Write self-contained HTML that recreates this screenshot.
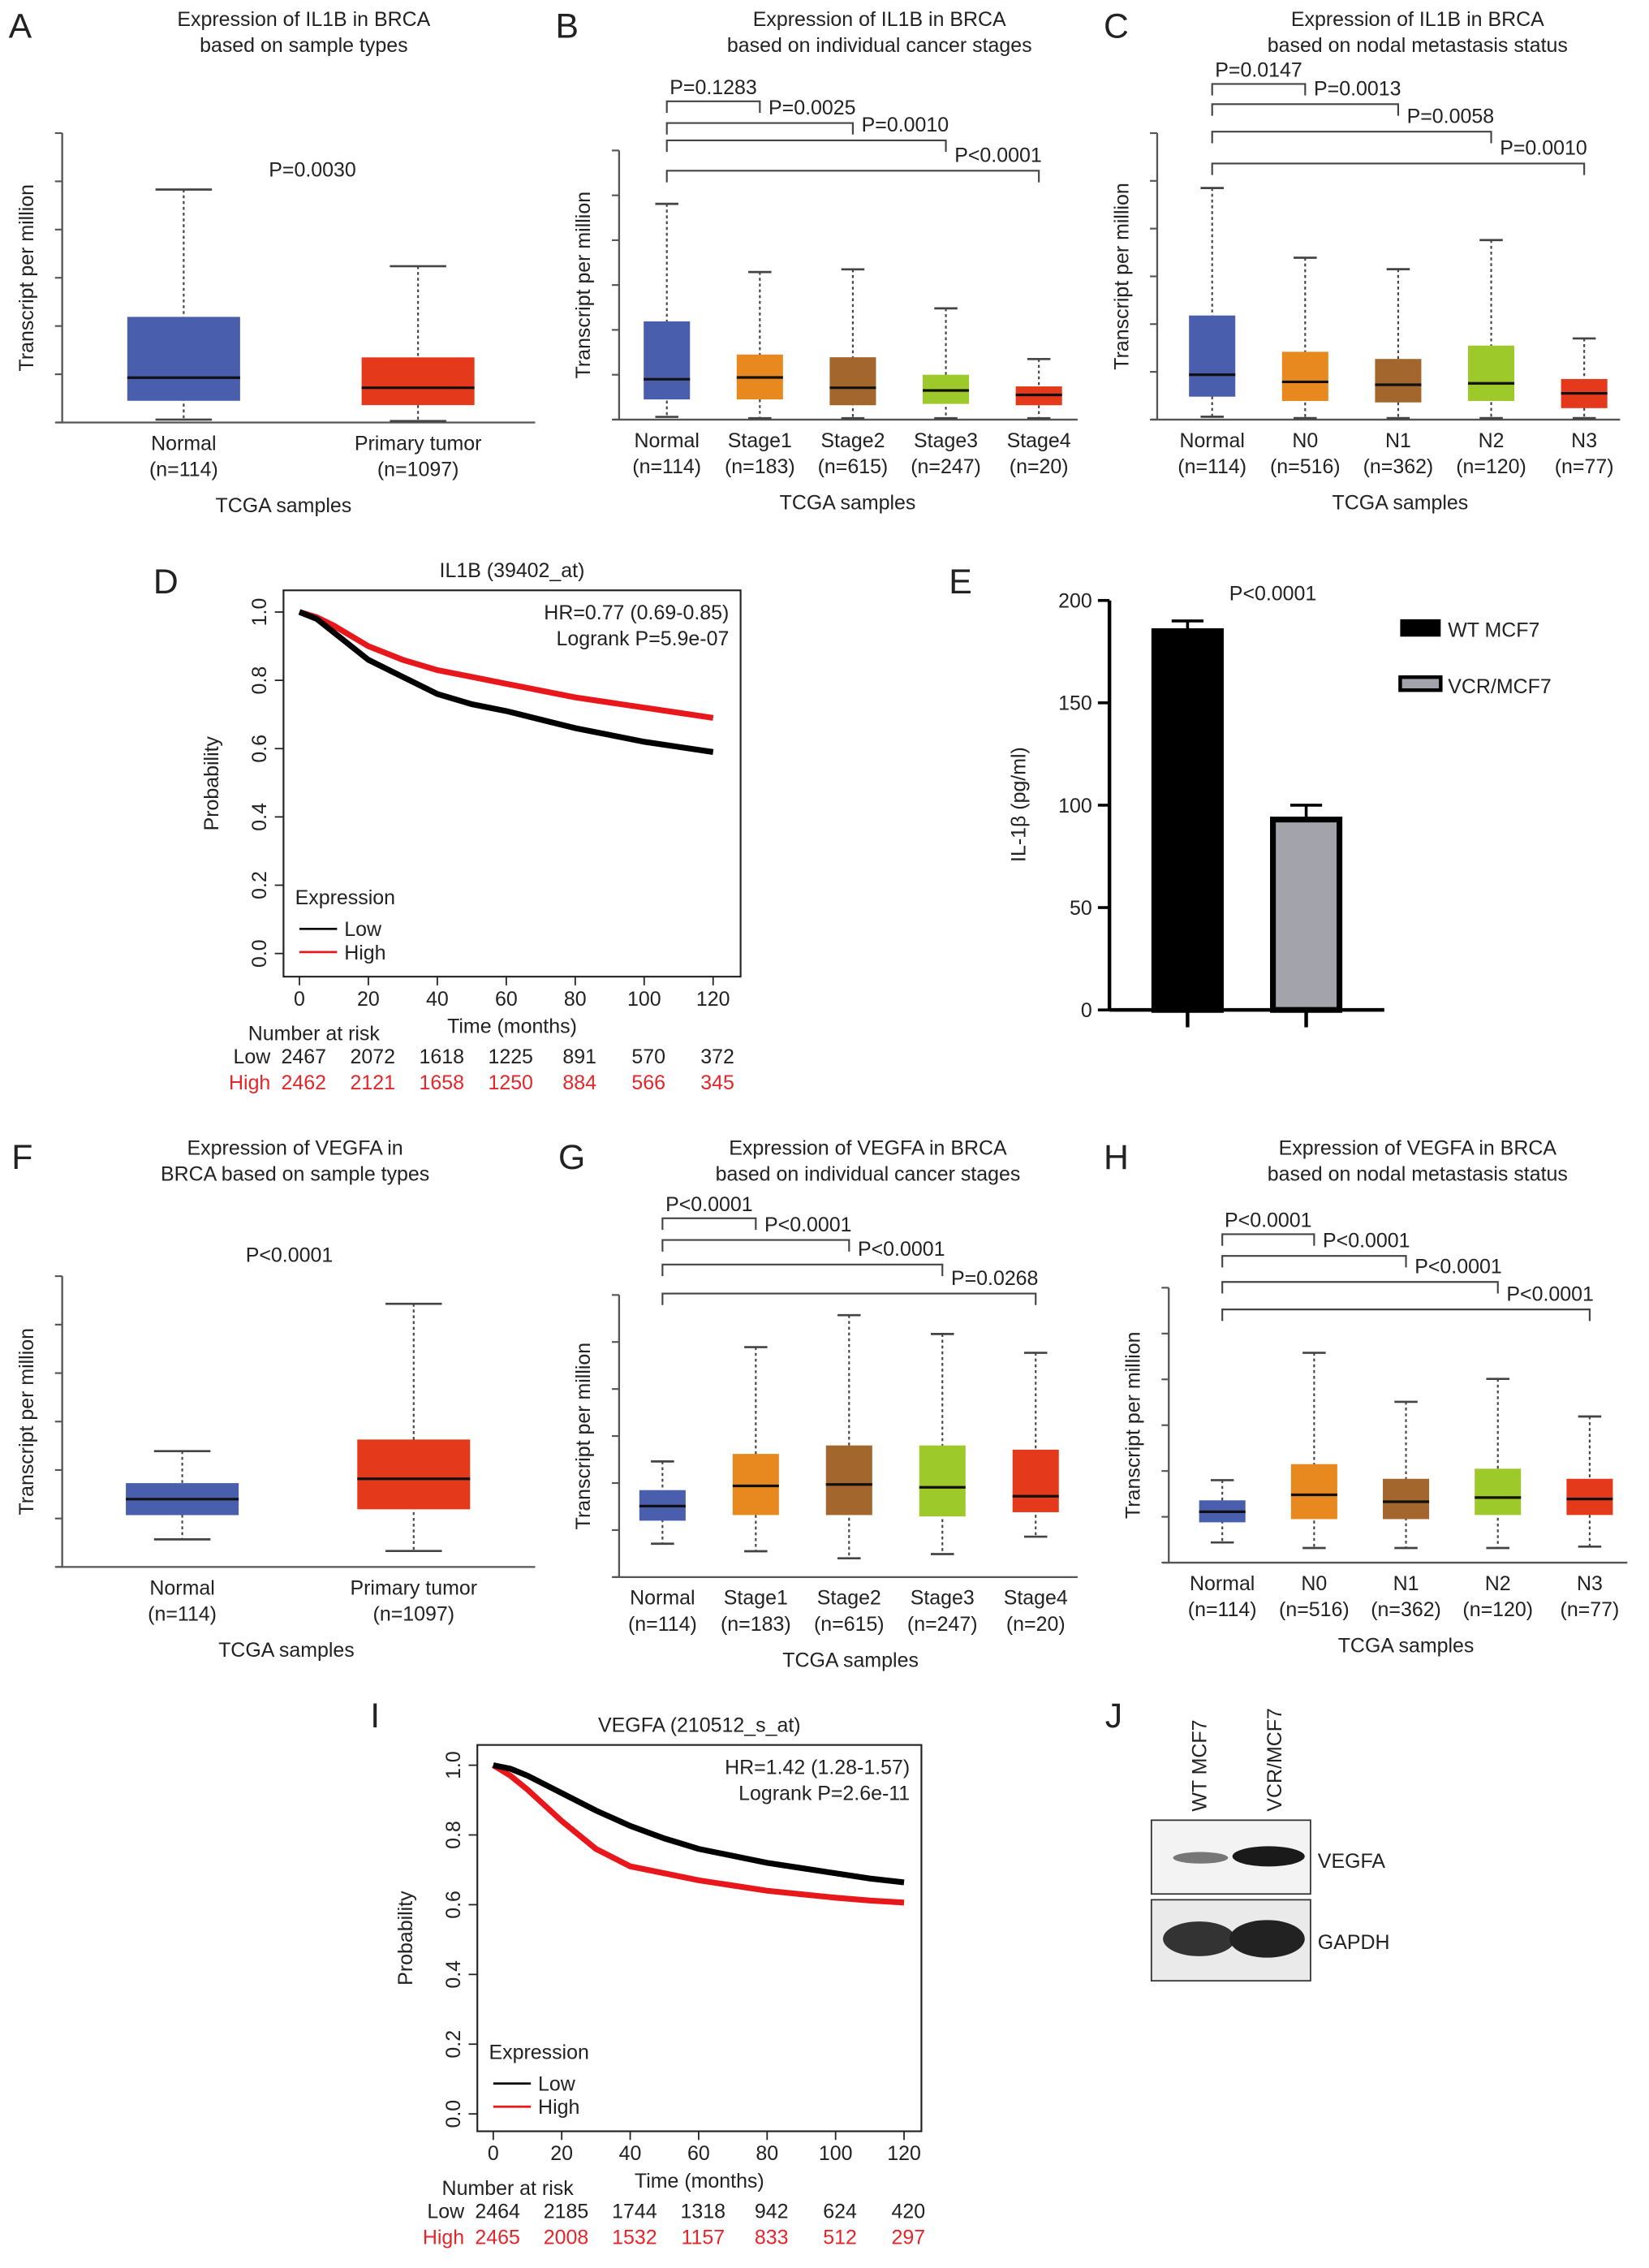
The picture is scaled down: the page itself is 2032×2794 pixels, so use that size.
<!DOCTYPE html>
<html><head><meta charset="utf-8"><style>
html,body{margin:0;padding:0;background:#fff}
svg{display:block;font-family:"Liberation Sans",sans-serif}
</style></head><body>
<svg id="fig" xmlns="http://www.w3.org/2000/svg" width="2032" height="2794" viewBox="0 0 1140 1567.5">
<rect width="1140" height="1567.5" fill="#fff"/>
<g id="root"></g>
</svg>
<script>
// ---- Panel A data ----
const aCats=['Normal','Primary tumor'];
const aNs=['(n=114)','(n=1097)'];
const aMax=[48.3,32.4],aQ3=[21.9,13.5],aMed=[9.3,7.2],aQ1=[4.5,3.6],aMin=[0.6,0.3];
// ---- Panel B ----
const bCats=['Normal','Stage1','Stage2','Stage3','Stage4'];
const bNs=['(n=114)','(n=183)','(n=615)','(n=247)','(n=20)'];
const bMax=[48.1,32.9,33.5,24.8,13.5],bQ3=[21.9,14.5,13.9,10.0,7.4],bMed=[9.0,9.4,7.1,6.5,5.5],bQ1=[4.5,4.5,3.2,3.5,3.2],bMin=[0.6,0.3,0.3,0.3,0.3];
const bP=['P=0.1283','P=0.0025','P=0.0010','P<0.0001'];
// ---- Panel C ----
const cCats=['Normal','N0','N1','N2','N3'];
const cNs=['(n=114)','(n=516)','(n=362)','(n=120)','(n=77)'];
const cMax=[48.5,33.9,31.5,37.6,17.0],cQ3=[21.8,14.2,12.7,15.5,8.5],cMed=[9.4,7.9,7.3,7.6,5.5],cQ1=[4.8,3.9,3.6,3.9,2.4],cMin=[0.6,0.3,0.3,0.3,0.3];
const cP=['P=0.0147','P=0.0013','P=0.0058','P=0.0010'];
// ---- Panel F ----
const fCats=['Normal','Primary tumor'];
const fNs=['(n=114)','(n=1097)'];
const fMax=[23.9,54.3],fQ3=[17.3,26.3],fMed=[14.0,18.2],fQ1=[10.7,11.9],fMin=[5.7,3.3];
// ---- Panel G ----
const gCats=['Normal','Stage1','Stage2','Stage3','Stage4'];
const gNs=['(n=114)','(n=183)','(n=615)','(n=247)','(n=20)'];
const gMax=[24.6,48.9,55.7,51.7,47.7],gQ3=[18.5,26.2,28.0,28.0,27.1],gMed=[15.1,19.4,19.7,19.1,17.2],gQ1=[12.0,13.2,13.2,12.9,13.8],gMin=[7.1,5.5,4.0,4.9,8.6];
const gP=['P<0.0001','P<0.0001','P<0.0001','P=0.0268'];
// ---- Panel H ----
const hCats=['Normal','N0','N1','N2','N3'];
const hNs=['(n=114)','(n=516)','(n=362)','(n=120)','(n=77)'];
const hMax=[18.0,45.8,35.1,40.1,31.9],hQ3=[13.6,21.5,18.3,20.5,18.3],hMed=[11.1,14.8,13.3,14.2,13.9],hQ1=[8.8,9.5,9.5,10.4,10.4],hMin=[4.4,3.2,3.2,3.2,3.5];
const hP=['P<0.0001','P<0.0001','P<0.0001','P<0.0001'];
// ---- Panel D KM ----
const kmTicks=[0,20,40,60,80,100,120];
const kmYTicks=[0,0.2,0.4,0.6,0.8,1.0];
const dTime=[0,5,10,20,30,40,50,60,70,80,90,100,110,120];
const dLow=[1,0.98,0.94,0.86,0.81,0.76,0.73,0.71,0.685,0.66,0.64,0.62,0.605,0.59];
const dHigh=[1,0.985,0.96,0.9,0.86,0.83,0.81,0.79,0.77,0.75,0.735,0.72,0.705,0.69];
const dRiskLow=['2467','2072','1618','1225','891','570','372'];
const dRiskHigh=['2462','2121','1658','1250','884','566','345'];
// ---- Panel I KM ----
const iTime=[0,5,10,20,30,40,50,60,70,80,90,100,110,120];
const iLow=[1,0.99,0.97,0.92,0.87,0.826,0.79,0.76,0.74,0.72,0.705,0.69,0.675,0.664];
const iHigh=[1,0.97,0.93,0.84,0.76,0.71,0.69,0.67,0.655,0.64,0.63,0.62,0.612,0.606];
const iRiskLow=['2464','2185','1744','1318','942','624','420'];
const iRiskHigh=['2465','2008','1532','1157','833','512','297'];
// ---- Panel E bars ----
const eCats=['WT MCF7','VCR/MCF7'];
const eVals=[185,93];
const eErr=[5,7];
const eTicks=[0,50,100,150,200];

const NS='http://www.w3.org/2000/svg';
const root=document.getElementById('root');
function el(tag,attrs,parent,text){const e=document.createElementNS(NS,tag);for(const k in attrs)e.setAttribute(k,attrs[k]);if(text!==undefined)e.textContent=text;(parent||root).appendChild(e);return e;}
function txt(x,y,s,opt,parent){opt=opt||{};const t=el('text',{x:x,y:y,'font-size':opt.size||14,fill:opt.fill||'#222','text-anchor':opt.anchor||'middle'},parent,s);if(opt.rot)t.setAttribute('transform','rotate(-90 '+x+' '+y+')');


return t;}

function boxPanel(c){
  const g=el('g',{});
  
  
  const y=v=>c.yBot-(v/60)*(c.yBot-c.yTop);
  el('line',{x1:c.x0,y1:c.yTop,x2:c.x0,y2:c.yBot,stroke:'#555','stroke-width':1.3},g);
  el('line',{x1:c.x0-4,y1:c.yBot,x2:c.xEnd,y2:c.yBot,stroke:'#555','stroke-width':1.3},g);
  for(let v=0;v<=60;v+=10){el('line',{x1:c.x0-5,y1:y(v),x2:c.x0,y2:y(v),stroke:'#555','stroke-width':1.2},g);}
  c.cats.forEach((cat,i)=>{
    const cx=c.first+i*c.step,w=c.w;
    const b=el('g',{},g);
    
    
    el('line',{x1:cx,y1:y(c.max[i]),x2:cx,y2:y(c.min[i]),stroke:'#444','stroke-width':1.2,'stroke-dasharray':'2,2'},b);
    el('line',{x1:cx-w/4,y1:y(c.max[i]),x2:cx+w/4,y2:y(c.max[i]),stroke:'#444','stroke-width':1.5},b);
    el('line',{x1:cx-w/4,y1:y(c.min[i]),x2:cx+w/4,y2:y(c.min[i]),stroke:'#444','stroke-width':1.5},b);
    el('rect',{x:cx-w/2,y:y(c.q3[i]),width:w,height:y(c.q1[i])-y(c.q3[i]),fill:c.colors[i]},b);
    el('line',{x1:cx-w/2,y1:y(c.med[i]),x2:cx+w/2,y2:y(c.med[i]),stroke:'#111','stroke-width':1.8},b);
    txt(cx,c.yBot+19,cat,{name:'x-tick-label'},g);
    txt(cx,c.yBot+37,c.ns[i],{name:'x-tick-count'},g);
  });
  txt(c.titleX,c.titleY,c.t1,{name:'panel-title'},g);
  txt(c.titleX,c.titleY+18,c.t2,{name:'panel-subtitle'},g);
  txt(c.x0-20,(c.yTop+c.yBot)/2,'Transcript per million',{rot:1,name:'y-axis-title'},g);
  txt(c.xlabX,c.yBot+62,'TCGA samples',{name:'x-axis-title'},g);
  txt(c.letterX,c.letterY,c.letter,{size:24,anchor:'start',name:'panel-letter'},g);
  if(c.p1) txt(c.p1x,c.p1y,c.p1,{name:'p-value'},g);
  if(c.pv){
    let prevEnd=null;
    c.pv.forEach((p,k)=>{
      const x1=c.first,x2=c.first+(k+1)*c.step,by=c.brY[k];
      const br=el('g',{},g);
      
      
      el('polyline',{points:x1+','+(by+8)+' '+x1+','+by+' '+x2+','+by+' '+x2+','+(by+8),fill:'none',stroke:'#444','stroke-width':1.2},br);
      if(k===0) txt((x1+x2)/2,by-5,p,{name:'p-value'},br);
      else txt(prevEnd+6,by-6,p,{anchor:'start',name:'p-value'},br);
      prevEnd=x2;
    });
  }
}
const C2=['#4a5eae','#e4391b'];
const C5=['#4a5eae','#e8891f','#a3672e','#9ec92a','#e4391b'];
boxPanel({id:'a',cats:aCats,ns:aNs,max:aMax,q3:aQ3,med:aMed,q1:aQ1,min:aMin,colors:C2,x0:43,xEnd:370,yTop:92,yBot:292,first:127,step:162,w:78,titleX:210,titleY:18,t1:'Expression of IL1B in BRCA',t2:'based on sample types',xlabX:196,letter:'A',letterX:6,letterY:26,p1:'P=0.0030',p1x:216,p1y:122});
boxPanel({id:'b',cats:bCats,ns:bNs,max:bMax,q3:bQ3,med:bMed,q1:bQ1,min:bMin,colors:C5,x0:428,xEnd:745,yTop:104,yBot:290,first:461,step:64.3,w:32,titleX:608,titleY:18,t1:'Expression of IL1B in BRCA',t2:'based on individual cancer stages',xlabX:586,letter:'B',letterX:384,letterY:26,pv:bP,brY:[70,85,97,118]});
boxPanel({id:'c',cats:cCats,ns:cNs,max:cMax,q3:cQ3,med:cMed,q1:cQ1,min:cMin,colors:C5,x0:800,xEnd:1120,yTop:92,yBot:290,first:838,step:64.3,w:32,titleX:980,titleY:18,t1:'Expression of IL1B in BRCA',t2:'based on nodal metastasis status',xlabX:968,letter:'C',letterX:763,letterY:26,pv:cP,brY:[58,72,91,113]});
boxPanel({id:'f',cats:fCats,ns:fNs,max:fMax,q3:fQ3,med:fMed,q1:fQ1,min:fMin,colors:C2,x0:43,xEnd:370,yTop:882,yBot:1083,first:126,step:160,w:78,titleX:204,titleY:798,t1:'Expression of VEGFA in',t2:'BRCA based on sample types',xlabX:198,letter:'F',letterX:8,letterY:808,p1:'P<0.0001',p1x:200,p1y:872});
boxPanel({id:'g',cats:gCats,ns:gNs,max:gMax,q3:gQ3,med:gMed,q1:gQ1,min:gMin,colors:C5,x0:428,xEnd:745,yTop:895,yBot:1090,first:458,step:64.5,w:32,titleX:600,titleY:798,t1:'Expression of VEGFA in BRCA',t2:'based on individual cancer stages',xlabX:588,letter:'G',letterX:386,letterY:808,pv:gP,brY:[842,857,874,894]});
boxPanel({id:'h',cats:hCats,ns:hNs,max:hMax,q3:hQ3,med:hMed,q1:hQ1,min:hMin,colors:C5,x0:808,xEnd:1125,yTop:890,yBot:1080,first:845,step:63.5,w:32,titleX:980,titleY:798,t1:'Expression of VEGFA in BRCA',t2:'based on nodal metastasis status',xlabX:972,letter:'H',letterX:763,letterY:808,pv:hP,brY:[853,868,886,905]});

function kmPanel(c){
  const g=el('g',{});
  
  
  const x=t=>c.xa+(t/120)*(c.xb-c.xa);
  const y=p=>c.y0-p*(c.y0-c.y1);
  el('rect',{x:c.fx1,y:c.fy1,width:c.fx2-c.fx1,height:c.fy2-c.fy1,fill:'none',stroke:'#222','stroke-width':1.2},g);
  kmTicks.forEach((t,i)=>{el('line',{x1:x(t),y1:c.fy2,x2:x(t),y2:c.fy2+6,stroke:'#222'},g);txt(x(t),c.fy2+20,String(t),{name:'x-tick-label'},g);
    txt(x(t)+3,c.fy2+60,c.rl[i],{name:'risk-low'},g);txt(x(t)+3,c.fy2+78,c.rh[i],{fill:'#e4262b',name:'risk-high'},g);});
  kmYTicks.forEach(p=>{el('line',{x1:c.fx1-6,y1:y(p),x2:c.fx1,y2:y(p),stroke:'#222'},g);txt(c.fx1-12,y(p),p.toFixed(1),{rot:1,name:'y-tick-label'},g);});
  const pts=arr=>c.time.map((t,i)=>x(t)+','+y(arr[i])).join(' ');
  const lh=el('polyline',{points:pts(c.high),fill:'none',stroke:'#e8171c','stroke-width':4},g);
  
  
  const ll=el('polyline',{points:pts(c.low),fill:'none',stroke:'#000','stroke-width':4},g);
  
  
  if(c.lowOnTop===false){g.appendChild(lh);}
  txt((c.fx1+c.fx2)/2,c.fy1-9,c.title,{name:'km-title'},g);
  txt(c.fx2-8,c.fy1+20,c.hr,{anchor:'end',name:'hazard-ratio'},g);
  txt(c.fx2-8,c.fy1+38,c.lr,{anchor:'end',name:'logrank-p'},g);
  txt(c.fx1+8,c.fy2-50,'Expression',{anchor:'start',name:'legend-title'},g);
  el('line',{x1:c.fx1+11,y1:c.fy2-33,x2:c.fx1+37,y2:c.fy2-33,stroke:'#000','stroke-width':1.5},g);
  el('line',{x1:c.fx1+11,y1:c.fy2-17,x2:c.fx1+37,y2:c.fy2-17,stroke:'#e8171c','stroke-width':1.5},g);
  txt(c.fx1+42,c.fy2-28,'Low',{anchor:'start',name:'legend-low'},g);
  txt(c.fx1+42,c.fy2-12,'High',{anchor:'start',name:'legend-high'},g);
  txt((c.fx1+c.fx2)/2,c.fy2+39,'Time (months)',{name:'x-axis-title'},g);
  txt(c.fx1-45,(c.fy1+c.fy2)/2,'Probability',{rot:1,name:'y-axis-title'},g);
  txt(c.xa+10,c.fy2+44,'Number at risk',{name:'risk-header'},g);
  txt(c.xa-20,c.fy2+60,'Low',{anchor:'end',name:'risk-low-label'},g);
  txt(c.xa-20,c.fy2+78,'High',{anchor:'end',fill:'#e4262b',name:'risk-high-label'},g);
  txt(c.letterX,c.letterY,c.letter,{size:24,anchor:'start',name:'panel-letter'},g);
}
kmPanel({id:'d',time:dTime,low:dLow,high:dHigh,rl:dRiskLow,rh:dRiskHigh,fx1:196,fx2:512,fy1:408,fy2:675,xa:207,xb:493,y0:659,y1:423,title:'IL1B (39402_at)',hr:'HR=0.77 (0.69-0.85)',lr:'Logrank P=5.9e-07',letter:'D',letterX:106,letterY:410});
kmPanel({id:'i',time:iTime,low:iLow,high:iHigh,rl:iRiskLow,rh:iRiskHigh,fx1:330,fx2:637,fy1:1206,fy2:1473,xa:341,xb:625,y0:1461,y1:1220,title:'VEGFA (210512_s_at)',hr:'HR=1.42 (1.28-1.57)',lr:'Logrank P=2.6e-11',letter:'I',letterX:256,letterY:1194});

// Panel E
(function(){
  const g=el('g',{});
  
  
  const x0=767,yb=698,yt=415;
  const y=v=>yb-(v/200)*(yb-yt);
  el('line',{x1:x0,y1:yt,x2:x0,y2:yb,stroke:'#000','stroke-width':2.5},g);
  el('line',{x1:x0,y1:yb,x2:957,y2:yb,stroke:'#000','stroke-width':2.5},g);
  eTicks.forEach(v=>{el('line',{x1:x0-8,y1:y(v),x2:x0,y2:y(v),stroke:'#000','stroke-width':2},g);txt(x0-12,y(v)+5,String(v),{anchor:'end',name:'y-tick-label'},g);});
  const fills=['#000','#a3a3ab'];
  eCats.forEach((c,i)=>{
    const cx=821+i*82,w=50;
    const b=el('g',{},g);
    
    
    el('line',{x1:cx,y1:y(eVals[i]+eErr[i]),x2:cx,y2:y(eVals[i]-eErr[i]),stroke:'#000','stroke-width':2},b);
    el('line',{x1:cx-11,y1:y(eVals[i]+eErr[i]),x2:cx+11,y2:y(eVals[i]+eErr[i]),stroke:'#000','stroke-width':2},b);
    el('line',{x1:cx-11,y1:y(eVals[i]-eErr[i]),x2:cx+11,y2:y(eVals[i]-eErr[i]),stroke:'#000','stroke-width':2},b);
    el('rect',{x:cx-w/2+2,y:y(eVals[i]),width:w-4,height:yb-y(eVals[i]),fill:fills[i],stroke:'#000','stroke-width':4},b);
    el('line',{x1:cx,y1:yb,x2:cx,y2:yb+12,stroke:'#000','stroke-width':2.5},g);
    el('rect',{x:968,y:428+i*40,width:28,height:i?9:12,fill:fills[i],stroke:'#000','stroke-width':i?2.5:0},g);
    txt(1001,440+i*39,c,{anchor:'start',name:'legend-entry'},g);
  });
  txt(880,415,'P<0.0001',{name:'p-value'},g);
  txt(709,556,'IL-1β (pg/ml)',{rot:1,name:'y-axis-title'},g);
  txt(656,410,'E',{size:24,anchor:'start',name:'panel-letter'},g);
})();

// Panel J
(function(){
  const g=el('g',{});
  
  
  txt(764,1194,'J',{size:24,anchor:'start',name:'panel-letter'},g);
  txt(834,1252,'WT MCF7',{rot:1,anchor:'start',name:'lane-label'},g);
  txt(886,1252,'VCR/MCF7',{rot:1,anchor:'start',name:'lane-label'},g);
  el('rect',{x:796,y:1258,width:110,height:51,fill:'#f3f3f3',stroke:'#333','stroke-width':1},g);
  el('rect',{x:796,y:1313,width:110,height:56,fill:'#eaeaea',stroke:'#333','stroke-width':1},g);
  el('ellipse',{cx:830,cy:1284,rx:19,ry:4,fill:'#777'},g);
  el('ellipse',{cx:877,cy:1283,rx:25,ry:7,fill:'#1a1a1a'},g);
  el('ellipse',{cx:829,cy:1340,rx:25,ry:12,fill:'#333'},g);
  el('ellipse',{cx:876,cy:1340,rx:26,ry:13,fill:'#222'},g);
  txt(911,1291,'VEGFA',{anchor:'start',name:'band-label'},g);
  txt(911,1347,'GAPDH',{anchor:'start',name:'band-label'},g);
})();
</script>
</body></html>
